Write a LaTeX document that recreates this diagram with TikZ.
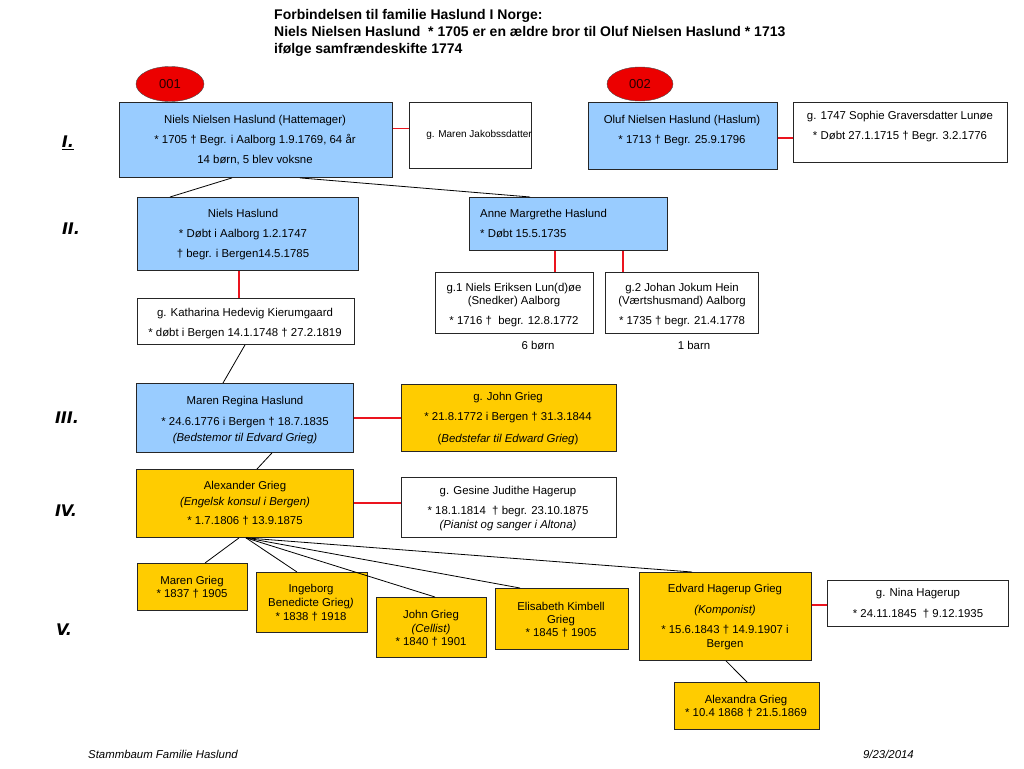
\documentclass[tikz,border=0pt]{standalone}
\usepackage{fontspec}
\setmainfont{Liberation Sans}
\newfontfamily\genfont{DejaVu Sans}
\usetikzlibrary{shapes.geometric}
\definecolor{famblue}{RGB}{153,204,255}
\definecolor{famgold}{RGB}{255,204,0}
\definecolor{famred}{RGB}{236,0,0}
\definecolor{wedred}{RGB}{235,20,30}

\begin{document}
\begin{tikzpicture}[x=1pt, y=-1pt,
    box/.style={draw=black!85, line width=0.9pt, anchor=north west, inner sep=0pt},
    bluebox/.style={box, fill=famblue},
    goldbox/.style={box, fill=famgold},
    wbox/.style={box, fill=white},
    txt/.style={font=\fontsize{11.4}{14}\selectfont, align=center, anchor=north, inner sep=0pt},
    gen/.style={font=\genfont\bfseries\itshape\fontsize{16}{18}\selectfont, inner sep=0pt},
    tag/.style={ellipse, draw=black!70, fill=famred, minimum width=68pt, minimum height=35pt,
        inner sep=0pt, font=\fontsize{13}{15}\selectfont, text=red!15!black},
    child/.style={draw=black, line width=0.8pt},
    wed/.style={draw=wedred, line width=1.2pt}]

    \useasboundingbox (0,0) rectangle (1024,768);

    % Title
    \node[anchor=north west, align=left, inner sep=0pt, font=\bfseries\fontsize{14}{17}\selectfont]
        (title) at (274,9) {Forbindelsen til familie Haslund I Norge:\\
        Niels Nielsen Haslund\ \ * 1705 er en ældre bror til Oluf Nielsen Haslund * 1713\\
        ifølge samfrændeskifte 1774};

    % Generations
    \node[gen] (gI) at (68,143) {\underline{I.}};
    \node[gen] (gII) at (71,229) {II.};
    \node[gen] (gIII) at (67,418) {III.};
    \node[gen] (gIV) at (66,511) {IV.};
    \node[gen] (gV) at (64,630) {V.};

    % Generation I
    \node[bluebox, minimum width=273pt, minimum height=75pt] (nnh) at (119,102) {};
    \node[txt] (nnh-t) at (255,115.5) {Niels Nielsen Haslund (Hattemager)\\[6pt]
        * 1705 † Begr. i Aalborg 1.9.1769, 64 år\\[6pt] 14 børn, 5 blev voksne};
    \node[tag] (tag1) at (170,84) {001};
    \node[wbox, minimum width=122pt, minimum height=66pt] (mj) at (409,102) {};
    \node[txt, font=\fontsize{10}{12}\selectfont] (mj-t) at (479,130) {g. Maren Jakobssdatter};

    \node[bluebox, minimum width=189pt, minimum height=67pt] (oluf) at (588,102) {};
    \node[txt] (oluf-t) at (682,115) {Oluf Nielsen Haslund (Haslum)\\[6pt] * 1713 † Begr. 25.9.1796};
    \node[tag, minimum width=66pt, minimum height=34pt] (tag2) at (640,84) {002};
    \node[wbox, minimum width=214pt, minimum height=60pt] (soph) at (793,102) {};
    \node[txt] (soph-t) at (900,111) {g. 1747 Sophie Graversdatter Lunøe\\[6pt] * Døbt 27.1.1715 † Begr. 3.2.1776};

    % Generation II
    \node[bluebox, minimum width=221pt, minimum height=73pt] (nh) at (137,197) {};
    \node[txt] (nh-t) at (243,209) {Niels Haslund\\[6pt] * Døbt i Aalborg 1.2.1747\\[6pt] † begr. i Bergen14.5.1785};
    \node[wbox, minimum width=217pt, minimum height=46pt] (kath) at (137,298) {};
    \node[txt] (kath-t) at (245,308) {g. Katharina Hedevig Kierumgaard\\[6pt] * døbt i Bergen 14.1.1748 † 27.2.1819};

    \node[bluebox, minimum width=198pt, minimum height=53pt] (anne) at (469,197) {};
    \node[txt, align=left, anchor=north west] (anne-t) at (480,209) {Anne Margrethe Haslund\\[6pt] * Døbt 15.5.1735};
    \node[wbox, minimum width=158pt, minimum height=61pt] (gift1) at (435,272) {};
    \node[txt] (gift1-t) at (514,283) {g.1 Niels Eriksen Lun(d)øe\\[-1pt] (Snedker) Aalborg\\[6pt] * 1716 †\ \ begr. 12.8.1772};
    \node[wbox, minimum width=153pt, minimum height=61pt] (gift2) at (605,272) {};
    \node[txt] (gift2-t) at (682,283) {g.2 Johan Jokum Hein\\[-1pt] (Værtshusmand) Aalborg\\[6pt] * 1735 † begr. 21.4.1778};
    \node[txt, anchor=center] (born1) at (538,345) {6 børn};
    \node[txt, anchor=center] (born2) at (694,345) {1 barn};

    % Generation III
    \node[bluebox, minimum width=217pt, minimum height=69pt] (mrh) at (136,383) {};
    \node[txt] (mrh-t) at (245,396) {Maren Regina Haslund\\[7pt] * 24.6.1776 i Bergen † 18.7.1835\\[2pt]
        \textit{(Bedstemor til Edvard Grieg)}};
    \node[goldbox, minimum width=215pt, minimum height=67pt] (jg) at (401,384) {};
    \node[txt] (jg-t) at (508,392) {g. John Grieg\\[6pt] * 21.8.1772 i Bergen † 31.3.1844\\[8pt]
        (\textit{Bedstefar til Edward Grieg})};

    % Generation IV
    \node[goldbox, minimum width=217pt, minimum height=68pt] (alex) at (136,469) {};
    \node[txt] (alex-t) at (245,481) {Alexander Grieg\\[2pt] \textit{(Engelsk konsul i Bergen)}\\[5pt]
        * 1.7.1806 † 13.9.1875};
    \node[wbox, minimum width=215pt, minimum height=60pt] (ges) at (401,477) {};
    \node[txt] (ges-t) at (508,486) {g. Gesine Judithe Hagerup\\[6pt] * 18.1.1814\ \ † begr. 23.10.1875\\
        \textit{(Pianist og sanger i Altona)}};

    % Generation V
    \node[goldbox, minimum width=110pt, minimum height=47pt] (mg) at (137,563) {};
    \node[txt] (mg-t) at (192,576) {Maren Grieg\\[-1pt] * 1837 † 1905};
    \node[goldbox, minimum width=111pt, minimum height=60pt] (ing) at (256,572) {};
    \node[txt] (ing-t) at (311,584) {Ingeborg\\ Benedicte Grieg\textit{)}\\ * 1838 † 1918};
    \node[goldbox, minimum width=110pt, minimum height=60pt] (jo) at (376,597) {};
    \node[txt] (jo-t) at (431,610) {John Grieg\\ \textit{(Cellist)}\\[-1pt] * 1840 † 1901};
    \node[goldbox, minimum width=133pt, minimum height=61pt] (el) at (495,588) {};
    \node[txt] (el-t) at (561,602) {Elisabeth Kimbell\\[-1pt] Grieg\\[-1pt] * 1845 † 1905};
    \node[goldbox, minimum width=172pt, minimum height=88pt] (edv) at (639,572) {};
    \node[txt] (edv-t) at (725,584) {Edvard Hagerup Grieg\\[7pt] \textit{(Komponist)}\\[6pt]
        * 15.6.1843 † 14.9.1907 i\\ Bergen};
    \node[wbox, minimum width=181pt, minimum height=46pt] (nina) at (827,580) {};
    \node[txt] (nina-t) at (918,588) {g. Nina Hagerup\\[7pt] * 24.11.1845\ \ † 9.12.1935};
    \node[goldbox, minimum width=145pt, minimum height=47pt] (alexa) at (674,682) {};
    \node[txt] (alexa-t) at (746,695) {Alexandra Grieg\\[-1pt] * 10.4 1868 † 21.5.1869};

    % Descent lines
    \draw[child] ([xshift=113pt]nnh.south west) -- ([xshift=33pt]nh.north west);
    \draw[child] ([xshift=181pt]nnh.south west) -- ([xshift=61pt]anne.north west);
    \draw[child] ([xshift=108pt]kath.south west) -- ([xshift=87pt]mrh.north west);
    \draw[child] ([xshift=136pt]mrh.south west) -- ([xshift=121pt]alex.north west);
    \draw[child] ([xshift=103pt]alex.south west) -- ([xshift=68pt]mg.north west);
    \draw[child] ([xshift=110pt]alex.south west) -- ([xshift=41pt]ing.north west);
    \draw[child] ([xshift=110pt]alex.south west) -- ([xshift=59pt]jo.north west);
    \draw[child] ([xshift=110pt]alex.south west) -- ([xshift=25pt]el.north west);
    \draw[child] ([xshift=110pt]alex.south west) -- ([xshift=53pt]edv.north west);
    \draw[child] ([xshift=87pt]edv.south west) -- ([xshift=73pt]alexa.north west);

    % Marriage lines
    \draw[wed] ([yshift=11.5pt]nnh.east) -- ([yshift=7pt]mj.west);
    \draw[wed] ([yshift=-2pt]oluf.east) -- ([yshift=-5.5pt]soph.west);
    \draw[wed] ([xshift=-9pt]nh.south) -- ([xshift=-7pt]kath.north);
    \draw[wed] ([xshift=86pt]anne.south west) -- ([xshift=120pt]gift1.north west);
    \draw[wed] ([xshift=154pt]anne.south west) -- ([xshift=18pt]gift2.north west);
    \draw[wed] (mrh.east) -- (jg.west);
    \draw[wed] ([yshift=0.5pt]alex.east) -- ([yshift=4.5pt]ges.west);
    \draw[wed] ([yshift=11.5pt]edv.east) -- ([yshift=-1.5pt]nina.west);

    % Footer
    \node[anchor=west, inner sep=0pt, font=\itshape\fontsize{11.4}{13}\selectfont] (foot) at (88,754) {Stammbaum Familie Haslund};
    \node[anchor=east, inner sep=0pt, font=\itshape\fontsize{11.4}{13}\selectfont] (date) at (914,754) {9/23/2014};
\end{tikzpicture}
\end{document}
